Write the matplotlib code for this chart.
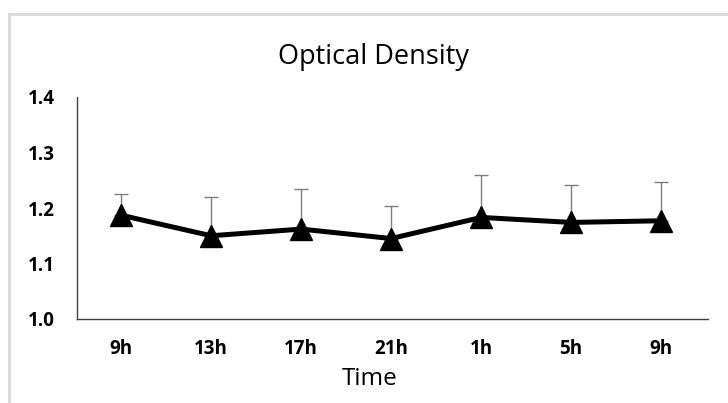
import matplotlib
matplotlib.use("Agg")
import matplotlib.pyplot as plt
from matplotlib.lines import Line2D

categories = ["9h", "13h", "17h", "21h", "1h", "5h", "9h"]
values = [1.187, 1.150, 1.162, 1.145, 1.183, 1.174, 1.177]
err_upper = [0.038, 0.069, 0.072, 0.059, 0.076, 0.067, 0.070]
yticks = [1.0, 1.1, 1.2, 1.3, 1.4]

W, H = 728, 403
fig = plt.figure(figsize=(W / 100, H / 100), dpi=100)
fig.patch.set_facecolor("white")

# outer chart-area frame (left & top visible)
fig.add_artist(Line2D([8.5 / W, 8.5 / W], [0, 1 - 14 / H], transform=fig.transFigure,
                      color="#d9d9d9", lw=2))
fig.add_artist(Line2D([8.5 / W, 1], [1 - 14 / H, 1 - 14 / H], transform=fig.transFigure,
                      color="#d9d9d9", lw=2))

ax = fig.add_axes([77 / W, 1 - 319 / H, (708 - 77) / W, (319 - 97) / H])
x = list(range(len(categories)))

ax.errorbar(x, values, yerr=[[0] * len(values), err_upper], fmt="none",
            ecolor="#7f7f7f", elinewidth=1.0, capsize=5, capthick=1.0, zorder=2)
ax.plot(x, values, color="black", lw=3.6, marker="^", markersize=16,
        markerfacecolor="black", markeredgecolor="black", zorder=3)

ax.set_xlim(-0.49, 6.52)
ax.set_ylim(1.0, 1.4)
ax.set_yticks(yticks)
ax.set_yticklabels([f"{v:.1f}" for v in yticks])
ax.set_xticks(x)
ax.set_xticklabels(categories)

font = "Open Sans"
for lab in ax.get_xticklabels() + ax.get_yticklabels():
    lab.set_fontfamily(font)
    lab.set_fontweight("bold")
    lab.set_fontsize(13.5)
ax.tick_params(axis="both", length=0)
ax.tick_params(axis="x", pad=14.5)
ax.tick_params(axis="y", pad=16)

for s in ["top", "right"]:
    ax.spines[s].set_visible(False)
ax.spines["left"].set_color("#404040")
ax.spines["bottom"].set_color("#404040")
ax.spines["left"].set_linewidth(1.0)
ax.spines["bottom"].set_linewidth(1.0)

fig.text(374 / W, 1 - 57 / H, "Optical Density", ha="center", va="center",
         fontsize=19.5, family=font)
fig.text(370 / W, 1 - 379 / H, "Time", ha="center", va="center",
         fontsize=17.5, family=font)

fig.savefig("out.png", dpi=100, facecolor="white")
